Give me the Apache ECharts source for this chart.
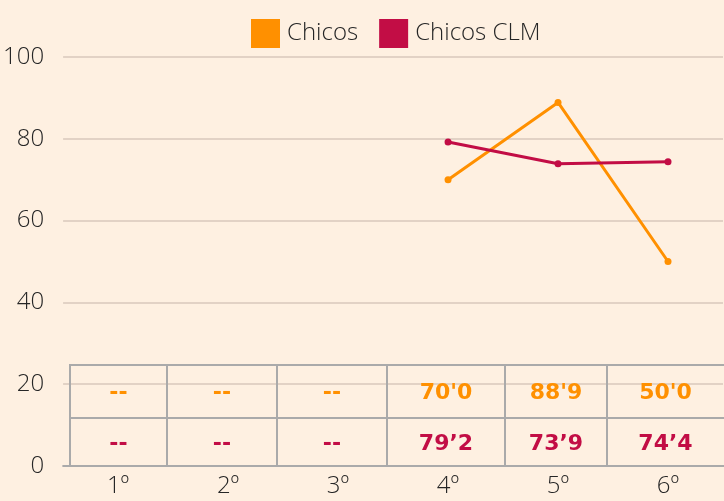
<!DOCTYPE html>
<html>
<head>
<meta charset="utf-8">
<script src="https://cdn.jsdelivr.net/npm/echarts@6/dist/echarts.min.js"></script>
<style>
  html, body { margin: 0; padding: 0; background: #fef0e1; }
  #chart { width: 724px; height: 501px; }
</style>
</head>
<body>
<div id="chart"></div>
<script>
// datos
var categorias = ['1º', '2º', '3º', '4º', '5º', '6º'];
var chicos = [null, null, null, 70.0, 88.9, 50.0];
var chicosCLM = [null, null, null, 79.2, 73.9, 74.4];
var tablaChicos = ['--', '--', '--', "70'0", "88'9", "50'0"];
var tablaCLM = ['--', '--', '--', '79’2', '73’9', '74’4'];

var NARANJA = '#ff9000';
var GRANATE = '#c20d45';
var TEXTO = '#262626';

var myChart = echarts.init(document.getElementById('chart'));

// tabla inferior (bordes de columnas y filas)
var colX = [70, 167, 277, 387, 505, 607, 740];
var filaY = [365, 418, 466];

function buildTabla() {
	var g = [];
	var filas = [tablaChicos, tablaCLM];
	var colores = [NARANJA, GRANATE];
	for (var r = 0; r < 2; r++) {
		for (var c = 0; c < 6; c++) {
			var x0 = colX[c], x1 = Math.min(colX[c + 1], 724);
			g.push({
				type: 'rect',
				shape: { x: colX[c], y: filaY[r], width: colX[c + 1] - colX[c], height: filaY[r + 1] - filaY[r] },
				style: { fill: 'rgba(0,0,0,0)', stroke: '#aaaaaa', lineWidth: 2 },
				z: 10
			});
			g.push({
				type: 'text',
				x: (x0 + x1) / 2,
				y: (filaY[r] + filaY[r + 1]) / 2 + 2,
				style: {
					text: filas[r][c],
					fill: colores[r],
					font: 'bold 22px "DejaVu Sans"',
					align: 'center',
					verticalAlign: 'middle'
				},
				z: 11
			});
		}
	}
	return g;
}

var option = {
	backgroundColor: '#fef0e1',
	color: [NARANJA, GRANATE],
	legend: {
		top: 14,
		left: 246,
		itemWidth: 29,
		itemHeight: 29,
		itemGap: 21,
		icon: 'rect',
		textStyle: { fontFamily: 'Open Sans', fontWeight: 300, fontSize: 24, color: TEXTO, padding: [0, 0, 0, 2] },
		data: ['Chicos', 'Chicos CLM']
	},
	grid: { left: 63, right: 1, top: 57, bottom: 35 },
	xAxis: {
		type: 'category',
		data: categorias,
		boundaryGap: true,
		axisLine: { lineStyle: { color: '#aaaaaa', width: 2 } },
		axisTick: { show: false },
		axisLabel: { color: TEXTO, fontFamily: 'Open Sans', fontWeight: 300, fontSize: 24, margin: 8 }
	},
	yAxis: {
		type: 'value',
		min: 0,
		max: 100,
		interval: 20,
		axisLine: { show: false },
		axisTick: { show: false },
		splitLine: { lineStyle: { color: '#d8c9bb', width: 1.5 } },
		axisLabel: { color: TEXTO, fontFamily: 'Open Sans', fontWeight: 300, fontSize: 24, margin: 19 }
	},
	series: [
		{
			name: 'Chicos',
			type: 'line',
			data: chicos,
			symbol: 'circle',
			symbolSize: 7,
			lineStyle: { width: 3 },
			connectNulls: false
		},
		{
			name: 'Chicos CLM',
			type: 'line',
			data: chicosCLM,
			symbol: 'circle',
			symbolSize: 7,
			lineStyle: { width: 3 },
			connectNulls: false
		}
	],
	graphic: buildTabla()
};

myChart.setOption(option);
</script>
</body>
</html>
